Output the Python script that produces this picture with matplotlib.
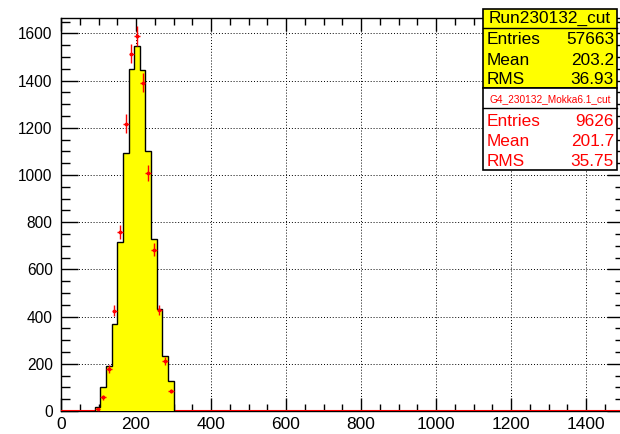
import numpy as np
import matplotlib.pyplot as plt
from matplotlib.patches import Rectangle
from matplotlib.lines import Line2D
from matplotlib.ticker import MultipleLocator

plt.rcParams['font.family'] = ['Liberation Sans', 'DejaVu Sans']

# data histogram (yellow), bins of 15 from 90 to 300
bin_edges = np.arange(90, 301, 15)
data_counts = [18, 100, 192, 368, 716, 1095, 1447, 1548, 1444, 1102, 728, 432, 232, 127]

# simulation points (red, with errors)
mc_counts = [8, 58, 180, 425, 757, 1218, 1514, 1589, 1391, 1008, 683, 428, 212, 85]
mc_errors = [4, 10, 17, 24, 30, 40, 41, 42, 40, 34, 28, 22, 15, 10]

stats_data = [("Entries", "57663"), ("Mean", "203.2"), ("RMS", "36.93")]
stats_mc = [("Entries", "9626"), ("Mean", "201.7"), ("RMS", "35.75")]

W, H = 620, 434
fig = plt.figure(figsize=(W / 100, H / 100), dpi=100)
ax = fig.add_axes([61 / W, (H - 411) / H, 562.5 / W, (411 - 18) / H])

ax.set_xlim(0, 1500)
ax.set_ylim(0, 1665)

centers = (bin_edges[:-1] + bin_edges[1:]) / 2
ax.axhline(0, color='red', lw=1.5, zorder=3)
ax.stairs(data_counts, bin_edges, fill=True, facecolor='#ffff00',
          edgecolor='black', lw=1, zorder=4)
ax.errorbar(centers, mc_counts, yerr=mc_errors, xerr=7.5, fmt='s', ms=1.8,
            color='red', ecolor='red', elinewidth=1, capsize=0, zorder=5)

ax.xaxis.set_major_locator(MultipleLocator(200))
ax.xaxis.set_minor_locator(MultipleLocator(50))
ax.yaxis.set_major_locator(MultipleLocator(200))
ax.yaxis.set_minor_locator(MultipleLocator(50))
ax.tick_params(axis='x', which='major', direction='in', length=9.5, width=1,
               top=True, labelsize=12.5, pad=4)
ax.tick_params(axis='x', which='minor', direction='in', length=5, width=1, top=True)
ax.tick_params(axis='y', which='major', direction='in', length=12.5, width=1,
               right=True, labelsize=11.2, pad=6)
ax.tick_params(axis='y', which='minor', direction='in', length=6.5, width=1, right=True)
ax.grid(True, which='major', linestyle=(0, (1, 2)), color='black', lw=0.7)
ax.set_axisbelow(True)
for s in ax.spines.values():
    s.set_linewidth(1)


def px(x, y):
    return x / W, 1 - y / H


def box(x0, y0, x1, y1, fc):
    fx0, fy1 = px(x0, y1)
    rect = Rectangle((fx0, fy1), (x1 - x0) / W, (y1 - y0) / H,
                     transform=fig.transFigure, facecolor=fc,
                     edgecolor='black', lw=1.2, zorder=10)
    fig.add_artist(rect)


def hline(y, x0, x1):
    fx0, fy = px(x0, y)
    fx1, _ = px(x1, y)
    fig.add_artist(Line2D([fx0, fx1], [fy, fy], transform=fig.transFigure,
                          color='black', lw=1, zorder=11))


bx0, bx1 = 483, 617
box(bx0, 9, bx1, 88, '#ffff00')
box(bx0, 88, bx1, 170, 'white')
hline(28, bx0, bx1)
hline(108, bx0, bx1)

fig.text(*px(550, 18), "Run230132_cut", ha='center', va='center',
         fontsize=12.4, zorder=12)
for i, (k, v) in enumerate(stats_data):
    y = 40 + 20 * i
    fig.text(*px(487, y), k, ha='left', va='center', fontsize=12.4, zorder=12)
    fig.text(*px(614, y), v, ha='right', va='center', fontsize=12.4, zorder=12)

fig.text(*px(550, 99), "G4_230132_Mokka6.1_cut", ha='center', va='center',
         fontsize=7.3, color='red', zorder=12)
for i, (k, v) in enumerate(stats_mc):
    y = 121 + 20 * i
    fig.text(*px(487, y), k, ha='left', va='center', fontsize=12.4,
             color='red', zorder=12)
    fig.text(*px(614, y), v, ha='right', va='center', fontsize=12.4,
             color='red', zorder=12)

fig.savefig("out.png", dpi=100)
